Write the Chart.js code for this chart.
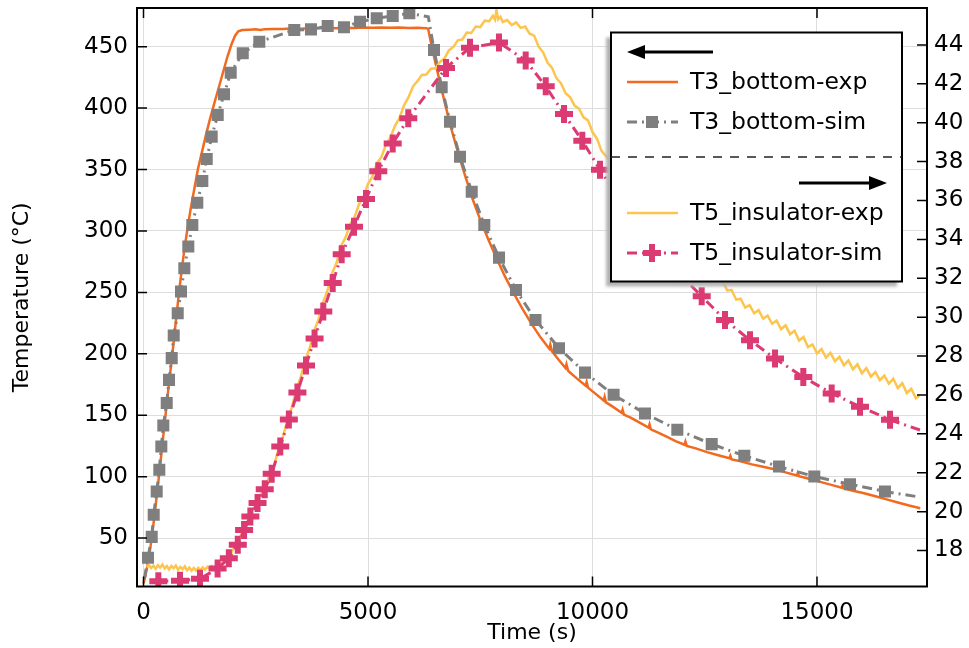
<!DOCTYPE html>
<html>
<head>
<meta charset="utf-8">
<title>T3 bottom / T5 insulator temperatures</title>
<script src="https://cdn.jsdelivr.net/npm/chart.js@4.4.1/dist/chart.umd.min.js"></script>
<style>
  body { margin: 0; background: #fff; }
  canvas { display: block; }
</style>
</head>
<body>
<canvas id="tempChart" width="969" height="648"></canvas>
<script>
// [time (s), temperature (°C)]
const t3BottomExp = [
  [0, 13], [40, 19], [90, 28], [140, 39], [190, 52], [240, 67], [290, 83], [340, 99],
  [390, 116], [440, 133], [490, 150], [540, 167], [590, 183], [640, 199], [690, 216],
  [740, 233], [790, 250], [850, 268], [910, 285], [980, 302], [1050, 318], [1130, 334],
  [1210, 350], [1300, 364], [1390, 378], [1480, 391], [1570, 403], [1670, 416],
  [1770, 429], [1870, 442], [1960, 452], [2040, 459], [2110, 462.5], [2200, 463.5],
  [2350, 463.8], [2500, 464.2], [2600, 463.6], [2700, 464.3], [2900, 464.5],
  [3100, 464.4], [3300, 464.8], [3500, 464.7], [3700, 465.1], [3900, 465], [4100, 465.3],
  [4300, 465.1], [4500, 465.5], [4700, 465.3], [4900, 465.6], [5100, 465.4],
  [5300, 465.7], [5500, 465.5], [5700, 465.6], [5900, 465.3], [6100, 465.4],
  [6300, 465.1], [6340, 464.5], [6380, 457], [6440, 447], [6520, 434], [6620, 418],
  [6740, 400], [6880, 380], [7020, 362], [7180, 343], [7340, 325], [7500, 309],
  [7680, 293], [7860, 278], [8050, 263], [8250, 249], [8450, 236], [8650, 224],
  [8850, 213], [9040, 204], [9060, 207.5], [9100, 202], [9250, 195], [9400, 188.5],
  [9420, 191.5], [9460, 186], [9650, 180], [9850, 174], [9870, 177], [9900, 172.5],
  [10050, 168], [10250, 162], [10270, 165], [10300, 160.5], [10450, 157], [10650, 152],
  [10670, 154.5], [10700, 150.5], [10850, 148], [11050, 144], [11250, 140], [11270, 142.5],
  [11300, 138.5], [11450, 136], [11650, 132.5], [11850, 129], [12050, 126], [12070, 128.5],
  [12100, 125], [12300, 123], [12550, 120], [12800, 117.5], [13050, 115], [13070, 117],
  [13100, 114], [13300, 112.5], [13550, 110], [13800, 108], [14050, 106], [14300, 103.5],
  [14550, 101], [14570, 103], [14600, 100.3], [14800, 98.5], [15050, 96], [15300, 93.5],
  [15550, 91], [15570, 93], [15600, 90.4], [15800, 88.5], [16050, 86.5], [16300, 84],
  [16550, 81.5], [16800, 79], [17050, 76.5], [17300, 74.3]
];

const t3BottomSim = [
  [20, 17], [100, 34], [183, 51], [227, 69], [294, 88], [352, 105.6], [397, 124.5],
  [441, 141.6], [517, 160], [568, 178.8], [628, 196.5], [673, 214.9], [762, 233],
  [835, 250.7], [909, 269.7], [998, 287.3], [1087, 304.9], [1198, 323], [1310, 340.7],
  [1408, 358.6], [1519, 376.8], [1653, 394.4], [1793, 411.3], [1942, 428.8],
  [2210, 444.6], [2579, 454], [3358, 463.6], [3730, 464.1], [4102, 466.8], [4465, 465.8],
  [4822, 470.3], [5194, 473.1], [5550, 475], [5920, 477.2], [6343, 474.4], [6470, 447.3],
  [6641, 417], [6826, 389], [7049, 360.5], [7310, 332], [7590, 304.9], [7918, 278.3],
  [8296, 252], [8730, 227.6], [9254, 204.6], [9833, 184.7], [10470, 166.6],
  [11169, 151.5], [11889, 138.2], [12655, 126.5], [13381, 117], [14154, 108.3],
  [14940, 100.1], [15735, 93.9], [16514, 87.9], [17220, 83.8]
];
// points of the simulated T3 curve drawn without a marker
const t3SimBare = [0, 34, 55];

const t5InsulatorExp = [
  [70, 17.15], [120, 17.26], [170, 17.1], [220, 17.22], [270, 17.06], [320, 17.24],
  [370, 17.12], [420, 17.28], [470, 17.08], [520, 17.2], [570, 17.03], [620, 17.21],
  [670, 17.09], [720, 17.23], [770, 17.0], [820, 17.16], [870, 17.04], [920, 17.19],
  [970, 16.98], [1020, 17.12], [1070, 16.96], [1120, 17.1], [1170, 16.97], [1220, 17.11],
  [1270, 16.99], [1320, 17.13], [1370, 17.01], [1420, 17.16], [1470, 17.05], [1520, 17.2],
  [1570, 17.08], [1620, 17.24], [1680, 17.18], [1740, 17.38], [1800, 17.44], [1860, 17.66],
  [1930, 17.8], [2000, 18.08], [2100, 18.36], [2200, 18.96], [2300, 19.4], [2400, 20.02],
  [2500, 20.3], [2600, 20.82], [2700, 21.2], [2800, 21.82], [2900, 22.3], [3000, 23.16],
  [3100, 23.8], [3200, 24.66], [3300, 25.34], [3400, 26.26], [3500, 26.9], [3600, 27.76],
  [3700, 28.4], [3800, 29.3], [3900, 29.9], [4000, 30.76], [4100, 31.4], [4200, 32.26],
  [4300, 32.8], [4400, 33.66], [4500, 34.1], [4600, 34.76], [4700, 35.14], [4800, 35.82],
  [4900, 36.2], [5000, 36.86], [5100, 37.24], [5200, 37.92], [5300, 38.24], [5400, 38.88],
  [5500, 39.24], [5600, 39.84], [5700, 40.24], [5800, 40.88], [5900, 41.3], [6000, 41.86],
  [6100, 42.14], [6200, 42.46], [6300, 42.48], [6400, 42.78], [6500, 42.8], [6600, 43.12],
  [6700, 43.3], [6800, 43.72], [6900, 43.9], [7000, 44.24], [7100, 44.28], [7200, 44.64],
  [7300, 44.62], [7400, 44.95], [7500, 44.92], [7600, 45.25], [7700, 45.22], [7780, 45.5],
  [7830, 45.3], [7860, 45.8], [7900, 45.32], [7950, 45.45], [8000, 45.18], [8100, 45.28],
  [8200, 45.02], [8300, 45.16], [8400, 44.88], [8500, 44.95], [8600, 44.58], [8700, 44.48],
  [8800, 43.92], [8900, 43.62], [9000, 43.08], [9100, 42.82], [9200, 42.28], [9300, 42.02],
  [9400, 41.52], [9500, 41.32], [9600, 40.88], [9700, 40.72], [9800, 40.28], [9900, 40.12],
  [10000, 39.52], [10100, 39.18], [10200, 38.55], [10500, 37.75], [10800, 36.9],
  [11100, 36.1], [11400, 35.3], [11700, 34.55], [12000, 33.8], [12300, 33.1],
  [12600, 32.45], [12700, 32.3], [12800, 31.86], [12900, 31.85], [13000, 31.38],
  [13100, 31.4], [13200, 30.9], [13300, 30.95], [13400, 30.5], [13500, 30.62],
  [13600, 30.2], [13700, 30.36], [13800, 29.92], [13900, 30.08], [14000, 29.66],
  [14100, 29.82], [14200, 29.38], [14300, 29.58], [14400, 29.12], [14500, 29.3],
  [14600, 28.8], [14700, 28.98], [14800, 28.46], [14900, 28.6], [15000, 28.14],
  [15100, 28.36], [15200, 27.92], [15300, 28.16], [15400, 27.74], [15500, 27.96],
  [15600, 27.52], [15700, 27.78], [15800, 27.32], [15900, 27.58], [16000, 27.12],
  [16100, 27.38], [16200, 26.94], [16300, 27.18], [16400, 26.76], [16500, 27.0],
  [16600, 26.58], [16700, 26.84], [16800, 26.36], [16900, 26.6], [17000, 26.1],
  [17100, 26.32], [17200, 25.84], [17280, 25.96]
];

const t5InsulatorSim = [
  [330, 16.42], [813, 16.45], [1258, 16.55], [1650, 17.07], [1900, 17.6], [2100, 18.3],
  [2240, 19.05], [2380, 19.75], [2540, 20.45], [2700, 21.15], [2855, 21.95], [3046, 23.35],
  [3237, 24.74], [3428, 26.13], [3619, 27.52], [3810, 28.9], [4004, 30.29], [4214, 31.76],
  [4414, 33.23], [4688, 34.65], [4955, 36.08], [5229, 37.51], [5550, 38.93], [5897, 40.23],
  [6737, 42.82], [7272, 43.86], [7918, 44.12], [8512, 43.2], [8958, 41.87], [9365, 40.45],
  [9773, 39.07], [10167, 37.58], [10600, 36.1], [11050, 34.7], [11480, 33.4], [11950, 32.2],
  [12432, 31.07], [12951, 29.86], [13508, 28.82], [14065, 27.87], [14695, 26.92],
  [15327, 26.08], [15958, 25.4], [16626, 24.72], [17294, 24.2]
];

const timeTicks = [0, 5000, 10000, 15000];
const tempTicks = [50, 100, 150, 200, 250, 300, 350, 400, 450];
const insulatorTicks = [18, 20, 22, 24, 26, 28, 30, 32, 34, 36, 38, 40, 42, 44];

const toXY = arr => arr.map(p => ({ x: p[0], y: p[1] }));

Chart.defaults.font.family = "'DejaVu Sans', sans-serif";
Chart.defaults.font.size = 23;
Chart.defaults.color = '#000';

// frame, inward tick marks and the two-part legend
const frameAndLegend = {
  id: 'frameAndLegend',
  afterDraw(chart) {
    const { ctx, chartArea: a, scales } = chart;
    const ds = chart.data.datasets;
    ctx.save();
    ctx.strokeStyle = '#000';
    ctx.fillStyle = '#000';
    ctx.lineWidth = 1.5;
    ctx.beginPath();
    scales.x.ticks.forEach(t => {
      const px = scales.x.getPixelForValue(t.value);
      ctx.moveTo(px, a.bottom); ctx.lineTo(px, a.bottom - 10);
      ctx.moveTo(px, a.top); ctx.lineTo(px, a.top + 10);
    });
    scales.y.ticks.forEach(t => {
      const py = scales.y.getPixelForValue(t.value);
      ctx.moveTo(a.left, py); ctx.lineTo(a.left + 10, py);
    });
    scales.y2.ticks.forEach(t => {
      const py = scales.y2.getPixelForValue(t.value);
      ctx.moveTo(a.right, py); ctx.lineTo(a.right - 10, py);
    });
    ctx.stroke();
    ctx.lineWidth = 2;
    ctx.strokeRect(a.left, a.top, a.right - a.left, a.bottom - a.top);

    // legend box with shadow
    const box = { x: 611, y: 32.5, w: 291, h: 249 };
    ctx.filter = 'blur(1.5px)';
    ctx.fillStyle = '#b3b3b3';
    ctx.fillRect(box.x - 5, box.y + 5, box.w, box.h);
    ctx.filter = 'none';
    ctx.fillStyle = '#fff';
    ctx.fillRect(box.x, box.y, box.w, box.h);
    ctx.lineWidth = 2;
    ctx.strokeStyle = '#000';
    ctx.strokeRect(box.x, box.y, box.w, box.h);

    ctx.fillStyle = '#000';
    const arrow = (x0, x1, y) => {
      const dir = Math.sign(x1 - x0);
      ctx.lineWidth = 3;
      ctx.beginPath(); ctx.moveTo(x0, y); ctx.lineTo(x1 - dir * 14, y); ctx.stroke();
      ctx.beginPath();
      ctx.moveTo(x1, y); ctx.lineTo(x1 - dir * 18, y - 7); ctx.lineTo(x1 - dir * 18, y + 7);
      ctx.closePath(); ctx.fill();
    };
    arrow(713, 627, 52);
    arrow(799, 887, 183);

    ctx.lineWidth = 1.5;
    ctx.strokeStyle = '#222';
    ctx.setLineDash([9, 8]);
    ctx.beginPath(); ctx.moveTo(box.x, 157); ctx.lineTo(box.x + box.w, 157); ctx.stroke();
    ctx.setLineDash([]);

    const rows = [[0, 82], [1, 122], [2, 213], [3, 253]];
    rows.forEach(([i, y]) => {
      const d = ds[i];
      ctx.strokeStyle = d.borderColor;
      ctx.lineWidth = d.borderWidth;
      ctx.setLineDash(d.borderDash || []);
      ctx.beginPath(); ctx.moveTo(627, y); ctx.lineTo(678, y); ctx.stroke();
      ctx.setLineDash([]);
      if (d.pointStyle) {
        ctx.fillStyle = d.pointBackgroundColor;
        ctx.strokeStyle = d.pointBorderColor;
        ctx.lineWidth = d.pointBorderWidth;
        Chart.helpers.drawPoint(ctx, {
          pointStyle: d.pointStyle, radius: d.legendRadius, borderWidth: d.pointBorderWidth, rotation: 0
        }, 652, y);
      }
      ctx.fillStyle = '#000';
      ctx.font = "23.5px 'DejaVu Sans', sans-serif";
      ctx.textBaseline = 'middle';
      ctx.textAlign = 'left';
      ctx.fillText(d.label, 690, y + 1);
    });
    ctx.restore();
  }
};

new Chart(document.getElementById('tempChart'), {
  type: 'line',
  data: {
    datasets: [
      {
        label: 'T3_bottom-exp',
        data: toXY(t3BottomExp),
        yAxisID: 'y',
        borderColor: '#f26a1f',
        borderWidth: 2.5,
        pointRadius: 0,
        order: 4
      },
      {
        label: 'T3_bottom-sim',
        data: toXY(t3BottomSim),
        yAxisID: 'y',
        borderColor: '#7f7f7f',
        borderWidth: 3,
        borderDash: [10, 5, 2, 5],
        pointStyle: 'rect',
        pointRadius: c => t3SimBare.includes(c.dataIndex) ? 0 : 8.5,
        legendRadius: 8.5,
        pointBackgroundColor: '#7f7f7f',
        pointBorderColor: '#7f7f7f',
        pointBorderWidth: 0,
        order: 3
      },
      {
        label: 'T5_insulator-exp',
        data: toXY(t5InsulatorExp),
        yAxisID: 'y2',
        borderColor: '#fcc54e',
        borderWidth: 2.5,
        pointRadius: 0,
        order: 2
      },
      {
        label: 'T5_insulator-sim',
        data: toXY(t5InsulatorSim),
        yAxisID: 'y2',
        borderColor: '#dc3a73',
        borderWidth: 3,
        borderDash: [10, 5, 2, 5],
        pointStyle: 'cross',
        pointRadius: c => c.dataIndex === t5InsulatorSim.length - 1 ? 0 : 9,
        legendRadius: 9,
        pointBackgroundColor: '#dc3a73',
        pointBorderColor: '#dc3a73',
        pointBorderWidth: 6,
        order: 1
      }
    ]
  },
  options: {
    responsive: false,
    animation: false,
    events: [],
    layout: { autoPadding: false, padding: { top: 8, left: 0, right: 0, bottom: 0 } },
    elements: { line: { tension: 0 } },
    plugins: { legend: { display: false }, tooltip: { enabled: false } },
    scales: {
      x: {
        type: 'linear',
        min: -145,
        max: 17450,
        afterBuildTicks: s => { s.ticks = timeTicks.map(v => ({ value: v })); },
        afterFit: s => { s.height = 61.5; s.paddingLeft = 0; s.paddingRight = 0; },
        ticks: { padding: 13, maxRotation: 0, callback: v => String(v) },
        grid: { color: '#dddddd', lineWidth: 1, drawTicks: false },
        border: { display: false },
        title: { display: true, text: 'Time (s)', font: { size: 22 }, padding: { top: 0, bottom: 2 } }
      },
      y: {
        type: 'linear',
        position: 'left',
        min: 10.6,
        max: 481.5,
        afterBuildTicks: s => { s.ticks = tempTicks.map(v => ({ value: v })); },
        afterFit: s => { s.width = 137; s.paddingTop = 0; s.paddingBottom = 0; },
        ticks: { padding: 9 },
        grid: { color: '#dddddd', lineWidth: 1, drawTicks: false },
        border: { display: false },
        title: { display: true, text: 'Temperature (°C)', font: { size: 22 }, padding: { top: 9, bottom: 0 } }
      },
      y2: {
        type: 'linear',
        position: 'right',
        min: 16.15,
        max: 45.9,
        afterBuildTicks: s => { s.ticks = insulatorTicks.map(v => ({ value: v })); },
        afterFit: s => { s.width = 42; s.paddingTop = 0; s.paddingBottom = 0; },
        ticks: { padding: 7 },
        grid: { display: false, drawTicks: false },
        border: { display: false }
      }
    }
  },
  plugins: [frameAndLegend]
});
</script>
</body>
</html>
